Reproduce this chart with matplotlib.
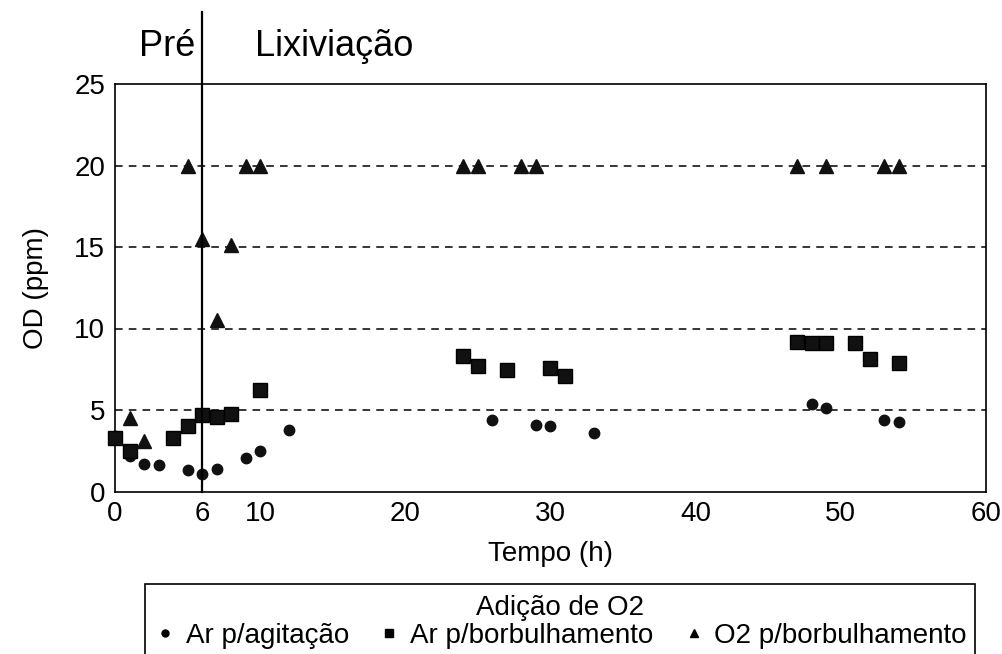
import numpy as np
import matplotlib as mpl
mpl.use("Agg")
import matplotlib.pyplot as plt
from matplotlib.patches import Rectangle
from matplotlib.lines import Line2D

plt.rcParams['font.family'] = ['Liberation Sans', 'DejaVu Sans']

# dissolved oxygen (OD, ppm) versus time (h) for three O2 addition methods
t_agit = [0, 1, 2, 3, 5, 6, 7, 9, 10, 12, 26, 29, 30, 33, 48, 49, 53, 54]
od_agit = [3.4, 2.2, 1.7, 1.6, 1.3, 1.05, 1.35, 2.05, 2.5, 3.75,
           4.4, 4.1, 4.0, 3.6, 5.35, 5.1, 4.4, 4.25]

t_borb = [0, 1, 4, 5, 6, 7, 8, 10, 24, 25, 27, 30, 31, 47, 48, 49, 51, 52, 54]
od_borb = [3.3, 2.5, 3.3, 4.0, 4.7, 4.6, 4.75, 6.2, 8.3, 7.7, 7.45, 7.6, 7.1,
           9.2, 9.1, 9.1, 9.1, 8.1, 7.9]

t_o2 = [1, 2, 5, 6, 7, 8, 9, 10, 24, 25, 28, 29, 47, 49, 53, 54]
od_o2 = [4.5, 3.1, 20, 15.5, 10.5, 15.1, 20, 20, 20, 20, 20, 20, 20, 20, 20, 20]

x_ticks = [0, 6, 10, 20, 30, 40, 50, 60]
y_ticks = [0, 5, 10, 15, 20, 25]
t_split = 6

W, H = 1003, 654
fig = plt.figure(figsize=(W / 100, H / 100), dpi=100)
ax = fig.add_axes([115 / W, 1 - 491.5 / H, 871 / W, 407.5 / H])

for y in [5, 10, 15, 20]:
    ax.axhline(y, color='black', lw=1.1, ls=(0, (5, 4)), zorder=1)

ax.plot(t_agit, od_agit, 'o', color='#111111', ms=7.5, ls='none', zorder=3,
        label='Ar p/agitação', clip_on=False)
ax.plot(t_borb, od_borb, 's', color='#111111', ms=10, mec='black', ls='none',
        zorder=4, label='Ar p/borbulhamento', clip_on=False)
ax.plot(t_o2, od_o2, '^', color='#111111', ms=10, ls='none', zorder=5,
        label='O2 p/borbulhamento', clip_on=False)

ax.set_xlim(0, 60)
ax.set_ylim(0, 25)
ax.set_xticks(x_ticks)
ax.set_yticks(y_ticks)
ax.tick_params(length=0, labelsize=20, pad=7)
for s in ax.spines.values():
    s.set_linewidth(1.2)

ax.set_xlabel('Tempo (h)', fontsize=20, labelpad=10)
ax.set_ylabel('OD (ppm)', fontsize=20, labelpad=18)

# phase divider, runs up past the axes into the header
ax.axvline(t_split, ymin=0, ymax=1.177, color='black', lw=1.6, clip_on=False, zorder=6)
fig.text(195 / W, 1 - 46 / H, 'Pré', fontsize=26, ha='right', va='center')
fig.text(255 / W, 1 - 46 / H, 'Lixiviação', fontsize=26, ha='left', va='center')

# legend box, cut off by the bottom edge of the figure
fig.patches.append(Rectangle((145 / W, -0.05), 830 / W, 0.05 + (654 - 584) / H,
                             transform=fig.transFigure, fill=False,
                             edgecolor='black', lw=1.2))
fig.text(560 / W, 1 - 608 / H, 'Adição de O2', fontsize=20, ha='center', va='center')
handles = [Line2D([], [], marker='o', color='black', ls='none', ms=5),
           Line2D([], [], marker='s', color='black', ls='none', ms=6),
           Line2D([], [], marker='^', color='black', ls='none', ms=6)]
fig.legend(handles, ['Ar p/agitação', 'Ar p/borbulhamento', 'O2 p/borbulhamento'],
           loc='center', bbox_to_anchor=(561 / W, 1 - 636 / H), ncol=3,
           frameon=False, fontsize=20, handlelength=0.7, handletextpad=0.4,
           columnspacing=1.1, borderpad=0)

fig.savefig('out.png', dpi=100)
